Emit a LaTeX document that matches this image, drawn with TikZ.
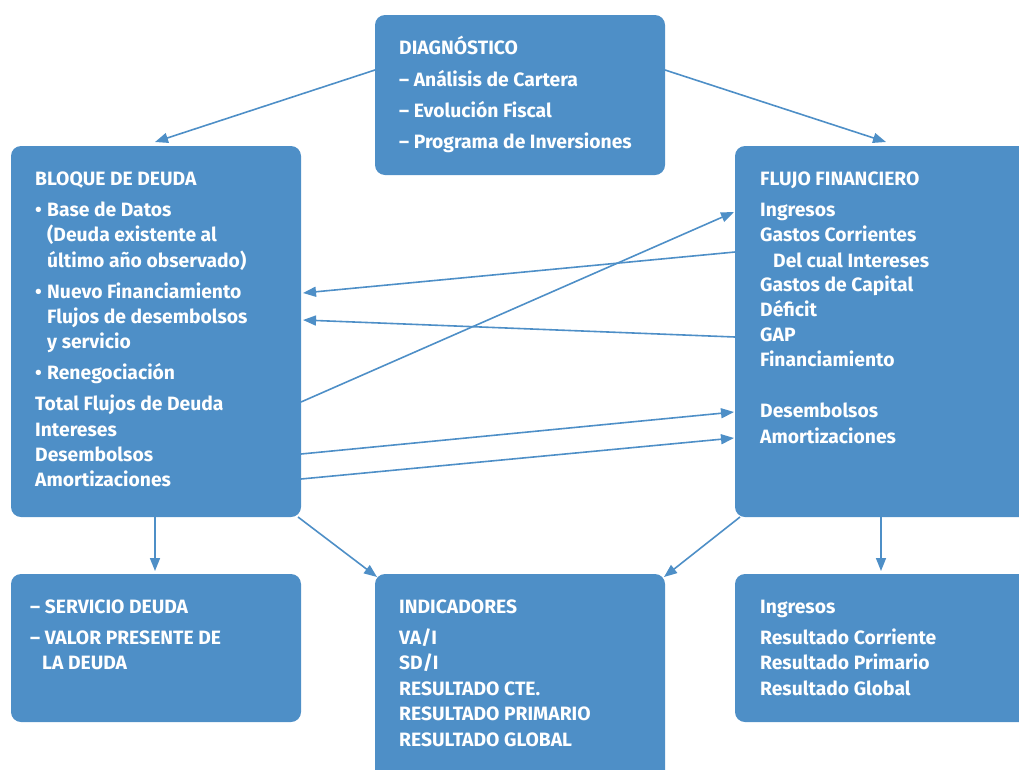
\documentclass[tikz,border=0pt]{standalone}
\usepackage{fontspec}
\setmainfont{Fira Sans}
\usetikzlibrary{arrows.meta}
\definecolor{boxblue}{HTML}{4E8FC7}
\tikzset{
  x=1pt, y=-1pt,
  box/.style={fill=boxblue, draw=none, rounded corners=10pt},
  txt/.style={anchor=base west, inner sep=0pt, text=white, font=\fontsize{19.3}{21}\selectfont\bfseries},
  conn/.style={draw=boxblue, line width=1.6pt, -{Triangle[length=13pt,width=10pt]}}
}
\begin{document}
\begin{tikzpicture}
\useasboundingbox (0,0) rectangle (1019,769);
% boxes
\path[box] (375,15) rectangle (665,175);
\node[inner sep=0pt] (diag) at (520,95) {};
\path[box] (11,146) rectangle (301,517);
\node[inner sep=0pt] (bloque) at (156,331) {};
\path[box] (735,146) rectangle (1030,517);
\node[inner sep=0pt] (flujo) at (880,331) {};
\path[box] (11,574) rectangle (301,722);
\node[inner sep=0pt] (serv) at (156,648) {};
\path[box] (375,574) rectangle (665,780);
\node[inner sep=0pt] (ind) at (520,670) {};
\path[box] (735,574) rectangle (1030,722);
\node[inner sep=0pt] (res) at (880,648) {};
% coordinates for connector ends
\coordinate (d1) at (375,70); \coordinate (b0) at (155,142);
\coordinate (d2) at (665,70); \coordinate (f0) at (886,142);
\coordinate (b1) at (301,402); \coordinate (f1) at (734,212);
\coordinate (f2) at (735,252); \coordinate (b2) at (303,293);
\coordinate (f3) at (735,337); \coordinate (b3) at (303,320);
\coordinate (b4) at (301,454); \coordinate (f4) at (734,412);
\coordinate (b5) at (301,479); \coordinate (f5) at (734,438);
\coordinate (b6) at (155,517); \coordinate (s0) at (155,571);
\coordinate (b7) at (298,517); \coordinate (i1) at (377,577);
\coordinate (f6) at (740,517); \coordinate (i2) at (664,577);
\coordinate (f7) at (881,517); \coordinate (r0) at (881,571);
\draw[conn] (d1) -- (b0);
\draw[conn] (d2) -- (f0);
\draw[conn] (b1) -- (f1);
\draw[conn] (f2) -- (b2);
\draw[conn] (f3) -- (b3);
\draw[conn] (b4) -- (f4);
\draw[conn] (b5) -- (f5);
\draw[conn] (b6) -- (s0);
\draw[conn] (b7) -- (i1);
\draw[conn] (f6) -- (i2);
\draw[conn] (f7) -- (r0);
% DIAGNOSTICO text
\node[txt] (t1) at (399,54) {DIAGNÓSTICO};
\node[txt] (t2) at (399,86) {– Análisis de Cartera};
\node[txt] (t3) at (399,117) {– Evolución Fiscal};
\node[txt] (t4) at (399,148) {– Programa de Inversiones};
% BLOQUE text
\node[txt] (u1) at (35,185) {BLOQUE DE DEUDA};
\node[txt] (u2) at (35,216) {•};
\node[txt] (u3) at (47,216) {Base de Datos};
\node[txt] (u4) at (47,241) {(Deuda existente al};
\node[txt] (u5) at (47,267) {último año observado)};
\node[txt] (u6) at (35,298) {•};
\node[txt] (u7) at (47,298) {Nuevo Financiamiento};
\node[txt] (u8) at (47,323) {Flujos de desembolsos};
\node[txt] (u9) at (47,348) {y servicio};
\node[txt] (u10) at (35,379) {•};
\node[txt] (u11) at (47,379) {Renegociación};
\node[txt] (u12) at (35,410) {Total Flujos de Deuda};
\node[txt] (u13) at (35,436) {Intereses};
\node[txt] (u14) at (35,461) {Desembolsos};
\node[txt] (u15) at (35,486) {Amortizaciones};
% FLUJO text
\node[txt] (v1) at (760,185) {FLUJO FINANCIERO};
\node[txt] (v2) at (760,216) {Ingresos};
\node[txt] (v3) at (760,241) {Gastos Corrientes};
\node[txt] (v4) at (773,267) {Del cual Intereses};
\node[txt] (v5) at (760,291) {Gastos de Capital};
\node[txt] (v6) at (760,316) {Déficit};
\node[txt] (v7) at (760,341) {GAP};
\node[txt] (v8) at (760,366) {Financiamiento};
\node[txt] (v9) at (760,417) {Desembolsos};
\node[txt] (v10) at (760,443) {Amortizaciones};
% SERVICIO text
\node[txt] (w1) at (30,613) {– SERVICIO DEUDA};
\node[txt] (w2) at (30,644) {– VALOR PRESENTE DE};
\node[txt] (w3) at (42,669) {LA DEUDA};
% INDICADORES text
\node[txt] (x1) at (399,613) {INDICADORES};
\node[txt] (x2) at (399,644) {VA/I};
\node[txt] (x3) at (399,669) {SD/I};
\node[txt] (x4) at (399,695) {RESULTADO CTE.};
\node[txt] (x5) at (399,720) {RESULTADO PRIMARIO};
\node[txt] (x6) at (399,746) {RESULTADO GLOBAL};
% Resultados text
\node[txt] (y1) at (760,613) {Ingresos};
\node[txt] (y2) at (760,644) {Resultado Corriente};
\node[txt] (y3) at (760,669) {Resultado Primario};
\node[txt] (y4) at (760,695) {Resultado Global};
\end{tikzpicture}
\end{document}
